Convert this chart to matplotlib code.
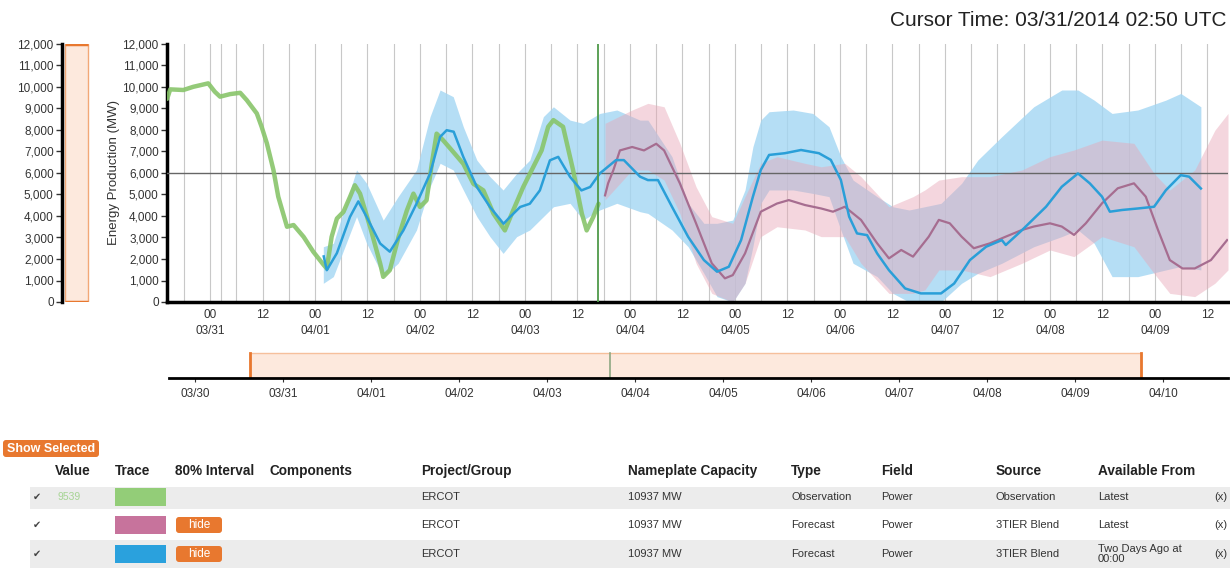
import numpy as np
import matplotlib.pyplot as plt
from matplotlib.patches import Rectangle, FancyBboxPatch

plt.rcParams['font.family'] = ['Liberation Sans', 'DejaVu Sans']

# ---- data (hours since 03/31 00:00 UTC, MW) ----
obs_hours = [-9.8, -9.1, -6.1, -3.8, -0.4, 1.1, 2.3, 4.6, 6.9, 8.4, 10.7, 11.8, 13.0, 14.5,
             15.6, 17.6, 19.1, 21.4, 23.6, 26.0, 26.7, 27.8, 29.0, 30.5, 32.0, 33.1, 34.3,
             36.6, 38.9, 39.6, 41.1, 43.1, 45.0, 46.5, 48.0, 49.5, 50.7, 51.8, 53.3, 55.3,
             57.9, 60.2, 62.5, 64.8, 67.4, 69.3, 71.6, 73.9, 75.8, 77.3, 78.5, 80.7, 83.0,
             85.0, 86.1, 87.6, 88.8]
obs_mw = [9450, 9890, 9860, 10010, 10170, 9780, 9550, 9670, 9730, 9390, 8770, 8150, 7380, 6140,
          4900, 3500, 3580, 3030, 2340, 1720, 1560, 3030, 3880, 4190, 4890, 5430, 5040,
          3490, 1790, 1170, 1480, 3030, 4260, 5040, 4420, 4730, 6430, 7830, 7520, 7050,
          6430, 5500, 5190, 4110, 3330, 4260, 5350, 6280, 7050, 8150, 8460, 8150, 6130,
          4110, 3330, 3950, 4570]

blue_hours = [26.0, 26.7, 29.0, 32.0, 33.9, 35.8, 38.9, 41.1, 44.2, 47.2, 50.3, 52.6, 54.1,
              55.7, 57.9, 61.0, 64.0, 67.1, 68.6, 70.9, 73.1, 75.4, 77.7, 79.6, 82.3, 84.9,
              86.9, 89.1, 92.8, 94.6, 98.3, 100.1, 102.4, 105.6, 109.3, 112.9, 115.9, 118.6,
              121.4, 124.1, 125.9, 127.8, 131.4, 135.1, 139.2, 141.9, 144.2, 146.1, 147.9,
              150.2, 152.5, 155.2, 158.9, 162.5, 167.1, 170.1, 173.7, 177.4, 181.0, 181.9,
              185.6, 191.1, 194.7, 198.4, 201.1, 203.9, 205.7, 208.5, 212.1, 215.8, 218.5,
              221.9, 223.8, 226.5]
blue_mw = [2120, 1480, 2270, 3960, 4680, 3960, 2720, 2340, 3330, 4570, 5970, 7680, 7990,
           7920, 6750, 5350, 4420, 3640, 3960, 4420, 4570, 5190, 6590, 6750, 5820, 5190,
           5350, 5980, 6600, 6600, 5830, 5670, 5670, 4430, 3030, 1950, 1410, 1640,
           2880, 4900, 6140, 6840, 6920, 7070, 6920, 6610, 5680, 3970, 3190,
           3110, 2260, 1480, 630, 400, 400, 860, 1950, 2570, 2880, 2650,
           3340, 4430, 5360, 5980, 5520, 4900, 4200, 4280, 4350, 4430, 5200,
           5900, 5830, 5280]

blue_band_hours = [25.9, 28.2, 33.5, 35.8, 39.6, 43.0, 47.2, 50.3, 52.6, 55.6, 57.9, 61.0, 64.0,
                   67.0, 70.1, 73.1, 76.2, 78.5, 82.3, 85.3, 89.1, 93.0, 98.3, 100.1, 105.6,
                   109.3, 112.9, 115.9, 119.5, 122.3, 124.1, 125.9, 127.8, 133.3, 137.8, 141.5,
                   144.2, 147.0, 152.5, 156.1, 159.8, 167.1, 171.8, 175.5, 181.0, 188.3, 194.7,
                   198.4, 202.1, 206.2, 212.1, 218.5, 221.9, 226.5]
blue_upper = [2570, 2730, 6140, 5520, 3810, 4900, 6140, 8620, 9860, 9550, 8150, 6600, 5830,
              5210, 5980, 6600, 8620, 9080, 8460, 8310, 8770, 8930, 8460, 8460, 6760,
              4590, 3660, 3660, 3810, 5210, 7220, 8460, 8850, 8930, 8770, 8150,
              6760, 5670, 4900, 4430, 4280, 4590, 5520, 6600, 7690, 9080, 9860,
              9860, 9390, 8770, 8930, 9390, 9700, 9080]
blue_lower = [870, 1180, 3970, 2730, 1180, 1800, 3350, 5360, 6450, 6140, 5210, 3970, 3040,
              2260, 3040, 3350, 3970, 4430, 4590, 3810, 4280, 4590, 4200, 4120, 3350,
              2570, 1330, 250, 0, 870, 2570, 4590, 5210, 5210, 5050, 4900,
              3350, 1800, 1180, 400, 0, 0, 870, 1330, 1800, 2570, 3040,
              3350, 2730, 1180, 1180, 1490, 1650, 1490]

pink_hours = [90.3, 91.0, 92.2, 93.7, 96.5, 99.2, 102.0, 103.8, 107.4, 111.1, 114.7, 117.7,
              119.5, 122.3, 125.9, 129.6, 132.3, 136.0, 139.7, 142.4, 145.1, 148.8, 152.5,
              155.2, 158.0, 160.7, 164.3, 166.6, 169.1, 171.8, 174.6, 178.3, 181.9, 185.6,
              188.3, 192.0, 194.7, 197.5, 200.2, 203.9, 207.5, 211.2, 213.9, 216.7, 219.4,
              222.3, 225.1, 228.8, 232.5]
pink_mw = [4960, 5520, 6130, 7050, 7210, 7050, 7360, 7050, 5520, 3660, 1800, 1100,
           1250, 2260, 4200, 4580, 4740, 4510, 4350, 4200, 4430, 3820, 2730,
           2030, 2420, 2110, 3040, 3820, 3660, 3040, 2500, 2730, 3040, 3350,
           3510, 3660, 3510, 3120, 3660, 4590, 5290, 5520, 4900, 3350, 1950,
           1560, 1560, 1950, 2880]

pink_band_hours = [90.3, 96.5, 100.1, 103.8, 107.4, 111.1, 114.7, 119.5, 122.3, 125.9, 129.6,
                   136.0, 139.7, 145.1, 148.8, 155.2, 160.7, 163.4, 166.6, 171.8, 178.3,
                   185.6, 192.0, 197.5, 203.9, 211.2, 215.8, 219.4, 225.1, 229.7, 232.7]
pink_upper = [8310, 8930, 9240, 9080, 7380, 5360, 3970, 3660, 4900, 6450, 6760,
              6450, 6290, 6450, 5830, 4430, 4900, 5210, 5670, 5830, 5830,
              6140, 6760, 7070, 7530, 7380, 5980, 5210, 6140, 7990, 8770]
pink_lower = [4750, 6140, 6140, 5670, 4120, 1800, 400, 0, 870, 3040, 3500,
              3350, 3040, 3040, 1800, 400, 400, 560, 1490, 1490, 1180,
              1800, 2420, 2110, 3040, 2570, 1330, 400, 250, 870, 1490]

cursor_hour = 88.7
x_ticks = list(range(0, 229, 12))
day_labels = ['03/31', '04/01', '04/02', '04/03', '04/04', '04/05', '04/06', '04/07', '04/08', '04/09']
nav_labels = ['03/30', '03/31', '04/01', '04/02', '04/03', '04/04', '04/05', '04/06', '04/07',
              '04/08', '04/09', '04/10']

# table
headers = ['Value', 'Trace', '80% Interval', 'Components', 'Project/Group', 'Nameplate Capacity',
           'Type', 'Field', 'Source', 'Available From']
row_values = ['9539', '', '']
row_colors = ['#93cd78', '#c7739c', '#2aa1dd']
row_hide = [False, True, True]
row_group = ['ERCOT', 'ERCOT', 'ERCOT']
row_capacity = ['10937 MW', '10937 MW', '10937 MW']
row_type = ['Observation', 'Forecast', 'Forecast']
row_field = ['Power', 'Power', 'Power']
row_source = ['Observation', '3TIER Blend', '3TIER Blend']
row_avail = ['Latest', 'Latest', 'Two Days Ago at\n00:00']

W, H = 1230, 568
fig = plt.figure(figsize=(W / 100, H / 100), dpi=100)


def box(x0, y0, x1, y1):
    # pixel box (top-left origin) -> figure fraction rect
    return [x0 / W, 1 - y1 / H, (x1 - x0) / W, (y1 - y0) / H]


# ---- overlay for title and table ----
ui = fig.add_axes([0, 0, 1, 1])
ui.set_xlim(0, W)
ui.set_ylim(H, 0)
ui.axis('off')

ui.text(1227, 20, 'Cursor Time: 03/31/2014 02:50 UTC', ha='right', va='center', fontsize=15, color='#222222')

orange = '#e8782f'
ui.add_patch(FancyBboxPatch((3, 440), 96, 17, boxstyle='round,pad=0,rounding_size=3',
                            fc=orange, ec='none'))
ui.text(51, 448.5, 'Show Selected', ha='center', va='center', fontsize=9, color='white',
        fontweight='bold')

col_x = [55, 115, 175, 269, 421, 628, 791, 881, 996, 1098]
for x, h in zip(col_x, headers):
    ui.text(x, 471, h, ha='left', va='center', fontsize=9.8, fontweight='bold', color='#222222')

row_y = [497, 525, 554]
ui.add_patch(Rectangle((30, 487), W - 30, 22, fc='#ececec', ec='none'))
ui.add_patch(Rectangle((30, 540), W - 30, 28, fc='#ececec', ec='none'))
for i, y in enumerate(row_y):
    ui.text(37, y, '\u2714', ha='center', va='center', fontsize=7, color='#444444',
            family=['DejaVu Sans'])
    ui.text(57, y, row_values[i], ha='left', va='center', fontsize=7.5, color='#a6d493')
    ui.add_patch(Rectangle((115, y - 9), 51, 18, fc=row_colors[i], ec='none'))
    if row_hide[i]:
        ui.add_patch(FancyBboxPatch((176, y - 8), 46, 16, boxstyle='round,pad=0,rounding_size=3',
                                    fc=orange, ec='none'))
        ui.text(199, y, 'hide', ha='center', va='center', fontsize=8.5, color='white')
    for x, txt in zip(col_x[4:], [row_group[i], row_capacity[i], row_type[i], row_field[i],
                                  row_source[i], row_avail[i]]):
        ui.text(x, y, txt, ha='left', va='center', fontsize=8, color='#333333', linespacing=1.1)
    ui.text(1214, y, '(x)', ha='left', va='center', fontsize=8, color='#333333')

# ---- main chart ----
ax = fig.add_axes(box(167, 44, 1228, 302))
ax.set_xlim(-9.83, 232.7)
ax.set_ylim(0, 12000)
for h in list(range(-6, 229, 6)) + [2.5]:
    ax.axvline(h, color='#c8c8c8', lw=0.8, zorder=0)

ax.fill_between(blue_band_hours, blue_lower, blue_upper, color='#a3d6f3', alpha=0.8, lw=0, zorder=1)
ax.fill_between(pink_band_hours, pink_lower, pink_upper, color='#e8a6b6', alpha=0.45, lw=0, zorder=2)
ax.axhline(6000, color='#666666', lw=1, zorder=3)
ax.plot(obs_hours, obs_mw, color='#88c56a', lw=3.2, alpha=0.9, zorder=4, solid_capstyle='round')
ax.plot(pink_hours, pink_mw, color='#a66d90', lw=1.6, zorder=5)
ax.plot(blue_hours, blue_mw, color='#2a9fd8', lw=1.8, zorder=6)
ax.axvline(cursor_hour, color='#4f9a4a', lw=1.3, zorder=7)

ax.set_yticks(range(0, 12001, 1000))
ax.set_yticklabels([f'{v:,}' for v in range(0, 12001, 1000)])
ax.set_xticks(x_ticks)
xlabels = []
for t in x_ticks:
    if t % 24 == 0:
        xlabels.append('00\n' + day_labels[t // 24])
    else:
        xlabels.append('12\n')
ax.set_xticklabels(xlabels, linespacing=1.4)
ax.tick_params(axis='y', length=4, width=1, labelsize=8.5, pad=2, colors='#333333')
ax.tick_params(axis='x', length=0, labelsize=8.5, pad=5, colors='#333333')
for s in ['top', 'right']:
    ax.spines[s].set_visible(False)
ax.spines['left'].set_linewidth(2.5)
ax.spines['bottom'].set_linewidth(2.5)
ax.set_ylabel('Energy Production (MW)', fontsize=9.5, labelpad=2, color='#333333')
ax.patch.set_alpha(0)

# ---- left y-range slider ----
sl = fig.add_axes(box(62, 44, 90, 302))
sl.set_xlim(0, 1)
sl.set_ylim(0, 12000)
sl.add_patch(Rectangle((0.12, 0), 0.8, 12000, fc='#fde9dd', ec='#f2a877', lw=1))
sl.plot([0.12, 0.92], [12000, 12000], color=orange, lw=2.5, solid_capstyle='butt')
sl.plot([0.12, 0.92], [0, 0], color=orange, lw=2.5, solid_capstyle='butt')
sl.set_yticks(range(0, 12001, 1000))
sl.set_yticklabels([f'{v:,}' for v in range(0, 12001, 1000)])
sl.set_xticks([])
sl.tick_params(axis='y', length=4, width=1, labelsize=8.5, pad=2, colors='#333333')
for s in ['top', 'right', 'bottom']:
    sl.spines[s].set_visible(False)
sl.spines['left'].set_linewidth(2.5)
sl.patch.set_alpha(0)

# ---- navigator ----
nav = fig.add_axes(box(169, 350, 1228, 378))
nav.set_xlim(-0.295, 11.74)
nav.set_ylim(0, 1)
nav.add_patch(Rectangle((0.625, 0), 10.75 - 0.625, 0.9, fc='#fde9dd', ec='#f6c09c', lw=1))
nav.plot([0.625, 0.625], [0, 0.9], color=orange, lw=2)
nav.plot([10.75, 10.75], [0, 0.9], color=orange, lw=2)
nav.plot([4.716, 4.716], [0, 0.9], color='#8ea882', lw=1.2)
nav.set_xticks(range(len(nav_labels)))
nav.set_xticklabels(nav_labels)
nav.set_yticks([])
nav.tick_params(axis='x', length=3, width=0.8, labelsize=8.5, pad=4, colors='#333333')
for s in ['top', 'right', 'left']:
    nav.spines[s].set_visible(False)
nav.spines['bottom'].set_linewidth(2)
nav.patch.set_alpha(0)

fig.savefig('out.png', dpi=100)
